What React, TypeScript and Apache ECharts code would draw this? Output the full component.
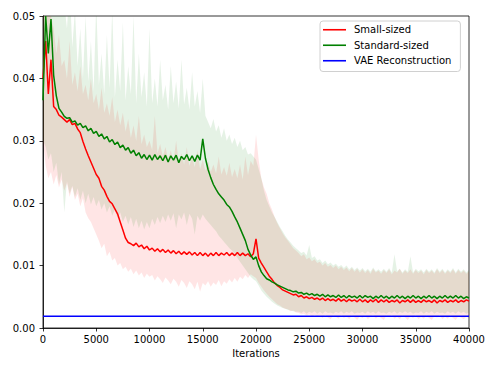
import React, { useEffect, useRef } from "react";
import * as echarts from "echarts";

// sampling step of the curves (iterations)
const iterStep = 250;

// Small-sized: smoothed loss
const smallMean = [
  0.0400, 0.0460, 0.0375, 0.0430, 0.0355, 0.0350, 0.0341, 0.0338,
  0.0334, 0.0330, 0.0334, 0.0326, 0.0328, 0.0319, 0.0313, 0.0299,
  0.0287, 0.0276, 0.0266, 0.0256, 0.0246, 0.0240, 0.0227, 0.0221,
  0.0211, 0.0203, 0.0199, 0.0191, 0.0183, 0.0170, 0.0157, 0.0144,
  0.0137, 0.0135, 0.0132, 0.0136, 0.0130, 0.0133, 0.0127, 0.0131,
  0.0125, 0.0128, 0.0123, 0.0127, 0.0122, 0.0126, 0.0121, 0.0125,
  0.0120, 0.0124, 0.0119, 0.0123, 0.0118, 0.0122, 0.0118, 0.0122,
  0.0117, 0.0121, 0.0116, 0.0121, 0.0116, 0.0120, 0.0115, 0.0120,
  0.0116, 0.0121, 0.0116, 0.0120, 0.0117, 0.0121, 0.0116, 0.0120,
  0.0116, 0.0121, 0.0116, 0.0120, 0.0116, 0.0119, 0.0114, 0.0119,
  0.0143, 0.0112, 0.0104, 0.0097, 0.0090, 0.0083, 0.0078, 0.0072,
  0.0068, 0.0065, 0.0061, 0.0059, 0.0057, 0.0055, 0.0053, 0.0054,
  0.0050, 0.0052, 0.0048, 0.0050, 0.0047, 0.0049, 0.0046, 0.0048,
  0.0045, 0.0048, 0.0044, 0.0047, 0.0044, 0.0046, 0.0043, 0.0047,
  0.0043, 0.0046, 0.0042, 0.0046, 0.0043, 0.0045, 0.0042, 0.0046,
  0.0042, 0.0045, 0.0041, 0.0045, 0.0042, 0.0046, 0.0041, 0.0045,
  0.0042, 0.0045, 0.0041, 0.0044, 0.0042, 0.0045, 0.0040, 0.0044,
  0.0042, 0.0045, 0.0041, 0.0045, 0.0041, 0.0044, 0.0041, 0.0045,
  0.0042, 0.0044, 0.0041, 0.0045, 0.0040, 0.0044, 0.0042, 0.0045,
  0.0041, 0.0044, 0.0042, 0.0045, 0.0041, 0.0044, 0.0042, 0.0045,
  0.0043,
];

// Small-sized: band lower / upper edge
const smallLow = [
  0.0300, 0.0260, 0.0240, 0.0250, 0.0230, 0.0245, 0.0225, 0.0238,
  0.0220, 0.0232, 0.0210, 0.0226, 0.0205, 0.0215, 0.0195, 0.0208,
  0.0185, 0.0176, 0.0170, 0.0160, 0.0150, 0.0140, 0.0128, 0.0135,
  0.0115, 0.0122, 0.0108, 0.0112, 0.0100, 0.0104, 0.0094, 0.0098,
  0.0090, 0.0095, 0.0086, 0.0092, 0.0084, 0.0089, 0.0080, 0.0087,
  0.0082, 0.0085, 0.0076, 0.0083, 0.0078, 0.0072, 0.0081, 0.0076,
  0.0070, 0.0079, 0.0074, 0.0066, 0.0077, 0.0072, 0.0064, 0.0075,
  0.0070, 0.0062, 0.0074, 0.0058, 0.0072, 0.0068, 0.0075, 0.0066,
  0.0073, 0.0069, 0.0077, 0.0067, 0.0075, 0.0071, 0.0078, 0.0073,
  0.0080, 0.0074, 0.0082, 0.0078, 0.0085, 0.0080, 0.0086, 0.0083,
  0.0080, 0.0072, 0.0066, 0.0060, 0.0055, 0.0050, 0.0046, 0.0042,
  0.0038, 0.0036, 0.0033, 0.0031, 0.0030, 0.0027, 0.0028, 0.0025,
  0.0024, 0.0022, 0.0023, 0.0020, 0.0022, 0.0018, 0.0021, 0.0019,
  0.0020, 0.0016, 0.0021, 0.0017, 0.0014, 0.0020, 0.0018, 0.0015,
  0.0021, 0.0016, 0.0019, 0.0014, 0.0020, 0.0017, 0.0013, 0.0019,
  0.0016, 0.0020, 0.0014, 0.0018, 0.0021, 0.0015, 0.0019, 0.0016,
  0.0013, 0.0020, 0.0017, 0.0021, 0.0015, 0.0018, 0.0014, 0.0020,
  0.0017, 0.0013, 0.0019, 0.0016, 0.0021, 0.0014, 0.0018, 0.0015,
  0.0020, 0.0016, 0.0013, 0.0019, 0.0017, 0.0021, 0.0014, 0.0018,
  0.0015, 0.0020, 0.0016, 0.0013, 0.0019, 0.0017, 0.0014, 0.0018,
  0.0016,
];

const smallHigh = [
  0.0550, 0.0520, 0.0600, 0.0500, 0.0480, 0.0440, 0.0470, 0.0420,
  0.0430, 0.0400, 0.0460, 0.0390, 0.0410, 0.0380, 0.0420, 0.0375,
  0.0390, 0.0365, 0.0400, 0.0360, 0.0375, 0.0350, 0.0385, 0.0345,
  0.0360, 0.0340, 0.0370, 0.0330, 0.0350, 0.0325, 0.0345, 0.0315,
  0.0335, 0.0305, 0.0325, 0.0300, 0.0340, 0.0295, 0.0310, 0.0290,
  0.0300, 0.0285, 0.0340, 0.0280, 0.0295, 0.0275, 0.0290, 0.0270,
  0.0285, 0.0268, 0.0300, 0.0265, 0.0280, 0.0262, 0.0290, 0.0260,
  0.0275, 0.0258, 0.0285, 0.0255, 0.0270, 0.0252, 0.0268, 0.0250,
  0.0262, 0.0248, 0.0275, 0.0246, 0.0258, 0.0244, 0.0265, 0.0242,
  0.0255, 0.0240, 0.0262, 0.0238, 0.0275, 0.0245, 0.0268, 0.0260,
  0.0310, 0.0270, 0.0240, 0.0225, 0.0215, 0.0200, 0.0190, 0.0178,
  0.0168, 0.0160, 0.0152, 0.0145, 0.0140, 0.0134, 0.0128, 0.0124,
  0.0120, 0.0115, 0.0118, 0.0110, 0.0113, 0.0107, 0.0110, 0.0104,
  0.0106, 0.0100, 0.0104, 0.0098, 0.0101, 0.0096, 0.0100, 0.0094,
  0.0098, 0.0093, 0.0097, 0.0091, 0.0096, 0.0090, 0.0095, 0.0089,
  0.0094, 0.0088, 0.0093, 0.0087, 0.0095, 0.0089, 0.0092, 0.0087,
  0.0093, 0.0088, 0.0094, 0.0086, 0.0092, 0.0089, 0.0095, 0.0087,
  0.0092, 0.0088, 0.0094, 0.0087, 0.0093, 0.0088, 0.0092, 0.0086,
  0.0093, 0.0088, 0.0092, 0.0087, 0.0094, 0.0088, 0.0093, 0.0087,
  0.0092, 0.0088, 0.0094, 0.0087, 0.0093, 0.0088, 0.0092, 0.0087,
  0.0091,
];

// Standard-sized: smoothed loss
const standardMean = [
  0.0365, 0.0500, 0.0440, 0.0495, 0.0405, 0.0372, 0.0352, 0.0346,
  0.0339, 0.0336, 0.0337, 0.0330, 0.0332, 0.0325, 0.0328, 0.0321,
  0.0324, 0.0316, 0.0320, 0.0312, 0.0315, 0.0307, 0.0311, 0.0303,
  0.0307, 0.0298, 0.0302, 0.0294, 0.0298, 0.0289, 0.0293, 0.0285,
  0.0289, 0.0280, 0.0285, 0.0276, 0.0281, 0.0272, 0.0278, 0.0270,
  0.0277, 0.0269, 0.0278, 0.0270, 0.0276, 0.0268, 0.0277, 0.0266,
  0.0276, 0.0269, 0.0277, 0.0265, 0.0275, 0.0270, 0.0278, 0.0268,
  0.0276, 0.0267, 0.0277, 0.0269, 0.0303, 0.0272, 0.0254, 0.0241,
  0.0230, 0.0222, 0.0215, 0.0210, 0.0205, 0.0198, 0.0194, 0.0187,
  0.0178, 0.0170, 0.0160, 0.0150, 0.0140, 0.0126, 0.0117, 0.0110,
  0.0114, 0.0100, 0.0090, 0.0084, 0.0079, 0.0077, 0.0074, 0.0072,
  0.0069, 0.0067, 0.0065, 0.0063, 0.0061, 0.0060, 0.0058, 0.0059,
  0.0056, 0.0057, 0.0054, 0.0056, 0.0053, 0.0055, 0.0052, 0.0054,
  0.0051, 0.0054, 0.0050, 0.0053, 0.0050, 0.0052, 0.0049, 0.0053,
  0.0049, 0.0052, 0.0048, 0.0052, 0.0049, 0.0051, 0.0048, 0.0052,
  0.0048, 0.0052, 0.0049, 0.0051, 0.0047, 0.0051, 0.0048, 0.0052,
  0.0048, 0.0051, 0.0047, 0.0051, 0.0048, 0.0052, 0.0048, 0.0051,
  0.0047, 0.0051, 0.0048, 0.0052, 0.0048, 0.0051, 0.0047, 0.0051,
  0.0048, 0.0052, 0.0048, 0.0051, 0.0047, 0.0051, 0.0048, 0.0052,
  0.0048, 0.0051, 0.0048, 0.0052, 0.0048, 0.0051, 0.0047, 0.0050,
  0.0048,
];

// Standard-sized: band lower / upper edge
const standardLow = [
  0.0300, 0.0290, 0.0270, 0.0280, 0.0250, 0.0265, 0.0230, 0.0250,
  0.0185, 0.0235, 0.0215, 0.0228, 0.0210, 0.0224, 0.0205, 0.0220,
  0.0200, 0.0215, 0.0198, 0.0210, 0.0195, 0.0205, 0.0190, 0.0200,
  0.0185, 0.0195, 0.0180, 0.0190, 0.0176, 0.0185, 0.0170, 0.0180,
  0.0166, 0.0178, 0.0162, 0.0175, 0.0160, 0.0172, 0.0158, 0.0170,
  0.0160, 0.0175, 0.0165, 0.0178, 0.0168, 0.0180, 0.0170, 0.0182,
  0.0172, 0.0184, 0.0160, 0.0182, 0.0174, 0.0185, 0.0165, 0.0183,
  0.0175, 0.0150, 0.0180, 0.0172, 0.0182, 0.0175, 0.0170, 0.0165,
  0.0160, 0.0155, 0.0148, 0.0143, 0.0138, 0.0133, 0.0128, 0.0124,
  0.0118, 0.0112, 0.0106, 0.0100, 0.0094, 0.0088, 0.0082, 0.0078,
  0.0075, 0.0068, 0.0060, 0.0055, 0.0050, 0.0046, 0.0042, 0.0039,
  0.0036, 0.0034, 0.0032, 0.0031, 0.0029, 0.0028, 0.0027, 0.0026,
  0.0026, 0.0024, 0.0027, 0.0023, 0.0026, 0.0024, 0.0027, 0.0023,
  0.0026, 0.0023, 0.0027, 0.0024, 0.0025, 0.0023, 0.0026, 0.0024,
  0.0027, 0.0023, 0.0026, 0.0024, 0.0027, 0.0023, 0.0025, 0.0024,
  0.0026, 0.0023, 0.0027, 0.0024, 0.0026, 0.0023, 0.0027, 0.0024,
  0.0025, 0.0023, 0.0026, 0.0024, 0.0027, 0.0023, 0.0026, 0.0024,
  0.0027, 0.0024, 0.0026, 0.0023, 0.0025, 0.0024, 0.0027, 0.0023,
  0.0026, 0.0024, 0.0027, 0.0023, 0.0026, 0.0024, 0.0025, 0.0023,
  0.0027, 0.0024, 0.0026, 0.0023, 0.0027, 0.0024, 0.0026, 0.0023,
  0.0025,
];

const standardHigh = [
  0.0600, 0.0600, 0.0600, 0.0600, 0.0600, 0.0580, 0.0560, 0.0540,
  0.0520, 0.0480, 0.0550, 0.0450, 0.0510, 0.0420, 0.0480, 0.0400,
  0.0500, 0.0395, 0.0460, 0.0380, 0.0520, 0.0390, 0.0440, 0.0375,
  0.0470, 0.0385, 0.0510, 0.0370, 0.0430, 0.0380, 0.0490, 0.0365,
  0.0420, 0.0375, 0.0500, 0.0360, 0.0440, 0.0370, 0.0410, 0.0355,
  0.0480, 0.0360, 0.0400, 0.0355, 0.0430, 0.0365, 0.0390, 0.0350,
  0.0420, 0.0360, 0.0395, 0.0352, 0.0430, 0.0358, 0.0385, 0.0350,
  0.0410, 0.0355, 0.0380, 0.0345, 0.0400, 0.0340, 0.0330, 0.0320,
  0.0335, 0.0315, 0.0325, 0.0305, 0.0320, 0.0300, 0.0310, 0.0295,
  0.0305, 0.0290, 0.0300, 0.0285, 0.0290, 0.0278, 0.0280, 0.0275,
  0.0270, 0.0255, 0.0240, 0.0220, 0.0205, 0.0195, 0.0185, 0.0178,
  0.0170, 0.0162, 0.0155, 0.0148, 0.0142, 0.0137, 0.0132, 0.0128,
  0.0124, 0.0120, 0.0122, 0.0116, 0.0133, 0.0112, 0.0115, 0.0108,
  0.0110, 0.0104, 0.0108, 0.0102, 0.0105, 0.0100, 0.0103, 0.0098,
  0.0101, 0.0096, 0.0100, 0.0094, 0.0098, 0.0093, 0.0097, 0.0092,
  0.0096, 0.0091, 0.0095, 0.0090, 0.0097, 0.0091, 0.0094, 0.0090,
  0.0095, 0.0090, 0.0096, 0.0089, 0.0118, 0.0091, 0.0095, 0.0089,
  0.0094, 0.0090, 0.0115, 0.0089, 0.0095, 0.0091, 0.0094, 0.0089,
  0.0095, 0.0090, 0.0094, 0.0089, 0.0096, 0.0090, 0.0095, 0.0089,
  0.0094, 0.0090, 0.0096, 0.0089, 0.0095, 0.0090, 0.0094, 0.0089,
  0.0093,
];

// VAE reconstruction reference level
const vaeLevel = 0.0019;
const xRange = [0, 40000];

const seriesNames = ["Small-sized", "Standard-sized", "VAE Reconstruction"];
const FONT = "DejaVu Sans";

const toPairs = (vals: number[]) => vals.map((v, i) => [i * iterStep, v]);

function bandSeries(lo: number[], hi: number[], color: string) {
  return {
    type: "custom",
    clip: true,
    silent: true,
    z: 1,
    data: lo.map((v, i) => [i * iterStep, v, hi[i]]),
    encode: { x: 0, y: [1, 2] },
    renderItem: (params: any, api: any) => {
      if (params.dataIndex !== 0) return null;
      const pts: number[][] = [];
      for (let i = 0; i < hi.length; i++) pts.push(api.coord([i * iterStep, hi[i]]));
      for (let i = lo.length - 1; i >= 0; i--) pts.push(api.coord([i * iterStep, lo[i]]));
      return {
        type: "polygon",
        shape: { points: pts },
        style: { fill: color },
        silent: true,
      };
    },
  };
}

export default function App() {
  const ref = useRef<HTMLDivElement>(null);
  useEffect(() => {
    if (!ref.current) return;
    const chart = echarts.init(ref.current, undefined, { renderer: "svg" });
    chart.setOption({
      animation: false,
      grid: {
        left: 43,
        right: 29,
        top: 16,
        bottom: 46,
        show: true,
        borderColor: "#000",
        borderWidth: 0.8,
        backgroundColor: "transparent",
      },
      xAxis: {
        type: "value",
        min: xRange[0],
        max: xRange[1],
        interval: 5000,
        name: "Iterations",
        nameLocation: "middle",
        nameGap: 20,
        nameTextStyle: { fontSize: 10, color: "#000", fontFamily: FONT },
        axisLine: { onZero: false, lineStyle: { color: "#000", width: 0.8 } },
        axisTick: { length: 3.5, lineStyle: { color: "#000", width: 0.8 } },
        axisLabel: {
          fontSize: 10,
          color: "#000",
          margin: 6,
          fontFamily: FONT,
          formatter: (v: number) => String(v),
        },
        splitLine: { show: false },
      },
      yAxis: {
        type: "value",
        min: 0,
        max: 0.05,
        interval: 0.01,
        axisLine: { show: true, onZero: false, lineStyle: { color: "#000", width: 0.8 } },
        axisTick: { show: true, length: 3.5, lineStyle: { color: "#000", width: 0.8 } },
        axisLabel: {
          fontSize: 10,
          color: "#000",
          margin: 8,
          fontFamily: FONT,
          formatter: (v: number) => v.toFixed(2),
        },
        splitLine: { show: false },
      },
      legend: {
        data: seriesNames.map((n) => ({ name: n, icon: "rect" })),
        orient: "vertical",
        left: 320,
        top: 21,
        padding: [3, 9, 5, 3],
        itemWidth: 23,
        itemHeight: 1.6,
        itemGap: 4,
        borderColor: "#d0d0d0",
        borderWidth: 1,
        borderRadius: 3,
        backgroundColor: "rgba(255,255,255,0.8)",
        textStyle: { fontSize: 10, color: "#000", fontFamily: FONT, lineHeight: 11.5, padding: [0, 0, 0, 3] },
        selectedMode: false,
      },
      series: [
        bandSeries(smallLow, smallHigh, "rgba(255,0,0,0.1)"),
        bandSeries(standardLow, standardHigh, "rgba(0,128,0,0.1)"),
        {
          name: seriesNames[0],
          type: "line",
          data: toPairs(smallMean),
          symbol: "none",
          color: "#ff0000",
          lineStyle: { color: "#ff0000", width: 1.5 },
          z: 3,
        },
        {
          name: seriesNames[1],
          type: "line",
          data: toPairs(standardMean),
          symbol: "none",
          color: "#008000",
          lineStyle: { color: "#008000", width: 1.5 },
          z: 4,
        },
        {
          name: seriesNames[2],
          type: "line",
          data: xRange.map((x) => [x, vaeLevel]),
          symbol: "none",
          color: "#0000ff",
          lineStyle: { color: "#0000ff", width: 1.5 },
          z: 5,
        },
      ],
    });
    return () => chart.dispose();
  }, []);
  return <div ref={ref} style={{ width: 498, height: 374, position: "absolute", left: 0, top: 0 }} />;
}
